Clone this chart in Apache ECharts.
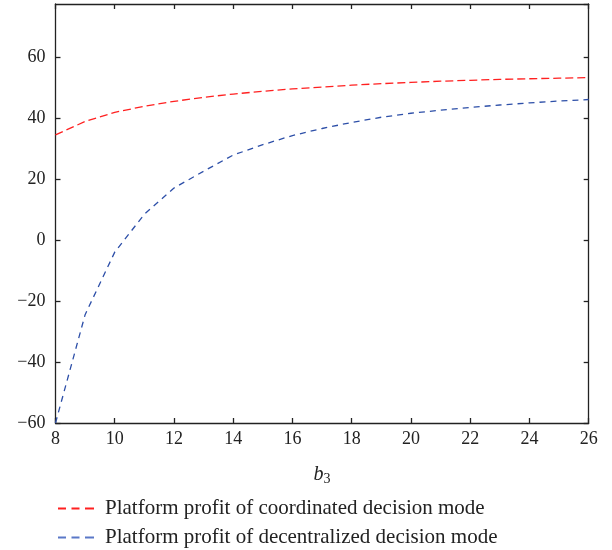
<!DOCTYPE html>
<html><head><meta charset="utf-8">
<script src="https://cdn.jsdelivr.net/npm/echarts@6/dist/echarts.min.js"></script>
<style>html,body{margin:0;padding:0;background:#fff}#c{width:612px;height:550px}</style>
</head><body><div id="c"></div>
<script>
const b3 = [8,9,10,11,12,13,14,15,16,17,18,19,20,21,22,23,24,25,26];
const coordinated = [34.4,38.8,41.8,43.8,45.4,46.7,47.8,48.7,49.5,50.1,50.7,51.2,51.6,52.0,52.3,52.6,52.8,53.0,53.2];
const decentralized = [-60,-24.5,-4,8.4,17,22.5,27.8,31.2,34.2,36.5,38.5,40.2,41.5,42.5,43.4,44.2,44.9,45.5,46.0];
const seriesNames = ['Platform profit of coordinated decision mode','Platform profit of decentralized decision mode'];
const font = 'Liberation Serif';
const chart = echarts.init(document.getElementById('c'), null, {renderer:'canvas'});
const axisCommon = {
  axisLine:{show:true,onZero:false,lineStyle:{color:'#222',width:1.3}},
  axisTick:{show:true,inside:true,length:5,lineStyle:{color:'#222',width:1.3}},
  splitLine:{show:false}
};
const legendCommon = {orient:'horizontal',left:53,itemWidth:36,itemHeight:2,
    icon:'path://M0,0h8v2h-8z M13.5,0h8v2h-8z M27,0h9v2h-9z',
    textStyle:{fontFamily:font,fontSize:21,color:'#222',padding:[0,0,0,6]}};
chart.setOption({
  animation:false,
  grid:{left:55.5,right:23.3,top:4,bottom:127,containLabel:false},
  xAxis:[
    Object.assign({type:'value',min:8,max:26,interval:2,position:'bottom',
      name:'{i|b}{s|3}',nameLocation:'middle',nameGap:40,
      nameTextStyle:{rich:{i:{fontFamily:font,fontStyle:'italic',fontSize:20,color:'#222'},s:{fontFamily:font,fontSize:14,color:'#222',padding:[9,0,0,0]}}},
      axisLabel:{fontFamily:font,fontSize:18,color:'#222',margin:7}},axisCommon),
    Object.assign({type:'value',min:8,max:26,interval:2,position:'top',axisLabel:{show:false}},axisCommon)
  ],
  yAxis:[
    Object.assign({type:'value',min:-60,max:77.3,interval:20,position:'left',
      axisLabel:{fontFamily:font,fontSize:18,color:'#222',margin:10,showMaxLabel:false,
        formatter:v=>v<0?'\u2212'+Math.abs(v):String(v)}},axisCommon),
    Object.assign({type:'value',min:-60,max:77.3,interval:20,position:'right',axisLabel:{show:false}},axisCommon)
  ],
  legend:[
    Object.assign({top:493,data:[seriesNames[0]]},legendCommon),
    Object.assign({top:522,data:[seriesNames[1]]},legendCommon)
  ],
  series:[
    {name:seriesNames[0],type:'line',data:b3.map((x,i)=>[x,coordinated[i]]),showSymbol:false,symbol:'none',
      lineStyle:{color:'#ff2020',width:1.3,type:[8,4]},itemStyle:{color:'#ff2020'}},
    {name:seriesNames[1],type:'line',data:b3.map((x,i)=>[x,decentralized[i]]),showSymbol:false,symbol:'none',
      lineStyle:{color:'#2d4fa8',width:1.3,type:[6,5]},itemStyle:{color:'#5a78c8'}}
  ]
});
</script></body></html>
